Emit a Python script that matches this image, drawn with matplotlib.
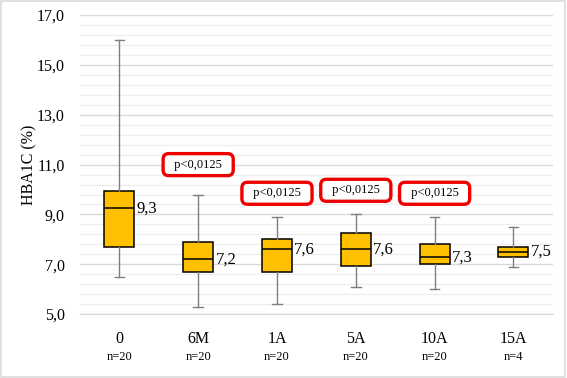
import matplotlib.pyplot as plt
from matplotlib.patches import Rectangle

plt.rcParams['font.family'] = ['Liberation Serif', 'DejaVu Serif']

# data
groups = ['0', '6M', '1A', '5A', '10A', '15A']
counts = ['n=20', 'n=20', 'n=20', 'n=20', 'n=20', 'n=4']
whisk_lo = [6.5, 5.3, 5.4, 6.1, 6.0, 6.9]
q1 = [7.7, 6.7, 6.7, 6.95, 7.0, 7.3]
med = [9.25, 7.2, 7.6, 7.6, 7.3, 7.5]
q3 = [9.95, 7.9, 8.0, 8.25, 7.8, 7.7]
whisk_hi = [16.0, 9.8, 8.9, 9.0, 8.9, 8.5]
med_labels = ['9,3', '7,2', '7,6', '7,6', '7,3', '7,5']
label_y = [9.25, 7.2, 7.6, 7.6, 7.25, 7.5]
p_groups = ['6M', '1A', '5A', '10A']
p_y = [11.0, 9.85, 9.97, 9.85]
p_text = 'p<0,0125'

fig = plt.figure(figsize=(5.67, 3.78), dpi=100)
ax = fig.add_axes([0.141, 0.169, 0.834, 0.791])

stats = []
for i, g in enumerate(groups):
    stats.append(dict(label=g, whislo=whisk_lo[i], q1=q1[i], med=med[i],
                      q3=q3[i], whishi=whisk_hi[i], fliers=[]))

pos = list(range(len(groups)))
ax.bxp(stats, positions=pos, widths=0.38, patch_artist=True, showfliers=False,
       capwidths=0.12,
       boxprops=dict(facecolor='#FFC000', edgecolor='black', linewidth=1.1),
       medianprops=dict(color='black', linewidth=1.1),
       whiskerprops=dict(color='#7f7f7f', linewidth=1.0),
       capprops=dict(color='#7f7f7f', linewidth=1.0),
       zorder=3)

# value labels next to each box
for i in range(len(groups)):
    ax.text(pos[i] + 0.22, label_y[i], med_labels[i], fontsize=12,
            ha='left', va='center', zorder=4)

# red p-value boxes
for g, y in zip(p_groups, p_y):
    x = groups.index(g)
    ax.text(x, y, '  ' + p_text + '  ', fontsize=9, ha='center', va='center',
            bbox=dict(boxstyle='round,pad=0.4,rounding_size=0.45',
                      facecolor='white', edgecolor='#ee0000', linewidth=2.4),
            zorder=5)

ax.set_xlim(-0.5, len(groups) - 0.5)
ax.set_ylim(5, 17)

# gridlines: major every 2, minor every 0.4
ax.set_yticks([5, 7, 9, 11, 13, 15, 17])
ax.set_yticklabels(['5,0', '7,0', '9,0', '11,0', '13,0', '15,0', '17,0'])
minor = [5 + 0.4 * k for k in range(31)]
ax.set_yticks(minor, minor=True)
ax.grid(axis='y', which='major', color='#d9d9d9', linewidth=1.0, zorder=0)
ax.grid(axis='y', which='minor', color='#eeeeee', linewidth=0.9, zorder=0)
ax.set_axisbelow(True)

ax.set_xticks(pos)
ax.set_xticklabels(groups, fontsize=11.5)
ax.tick_params(axis='x', length=0, pad=12)
ax.tick_params(axis='y', which='both', length=0, labelsize=11.5, pad=11)

for i, c in enumerate(counts):
    ax.text(pos[i], -0.145, c, transform=ax.get_xaxis_transform(),
            fontsize=9, ha='center', va='center')

for s in ['top', 'right', 'left']:
    ax.spines[s].set_visible(False)
ax.spines['bottom'].set_color('#d9d9d9')

ax.set_ylabel('HBA1C (%)', fontsize=11.5)
ax.yaxis.set_label_coords(-0.09, 0.5)

fig.patches.append(Rectangle((0.002, 0.003), 0.995, 0.994, transform=fig.transFigure,
                             fill=False, edgecolor='#d9d9d9', linewidth=1.2))

fig.savefig('out.png', dpi=100)
